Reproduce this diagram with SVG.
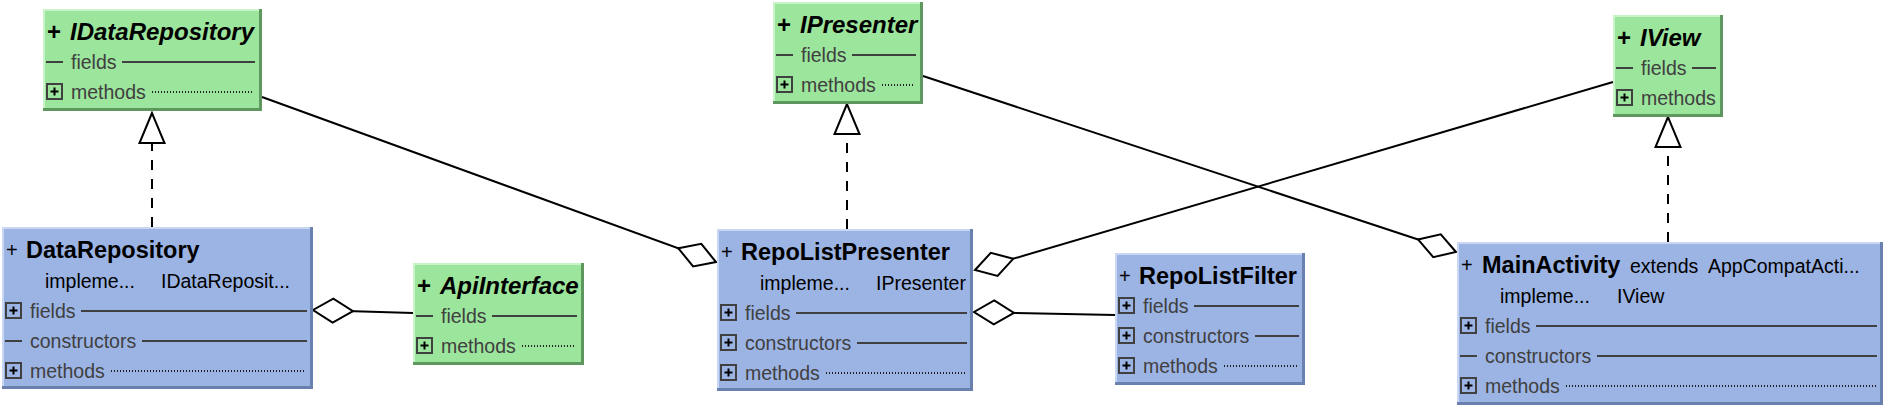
<svg xmlns="http://www.w3.org/2000/svg" xmlns:xlink="http://www.w3.org/1999/xlink" width="1884" height="406" viewBox="0 0 1884 406">
<style>
.gf{fill:#9ce59c}
.bf{fill:#9cb4e4}
.gl{stroke:#c9f3c9;stroke-width:2;fill:none}
.bl{stroke:#c9d7f3;stroke-width:2;fill:none}
.gd{stroke:#5e985e;stroke-width:3;fill:none}
.bd{stroke:#6a80ae;stroke-width:3;fill:none}
text{font-family:"Liberation Sans",Arial,sans-serif}
.pi{font-size:24px;font-weight:bold;fill:#000}
.ti{font-size:24px;font-weight:bold;font-style:italic;fill:#000}
.pc{font-size:20px;fill:#000}
.tc{font-size:23.5px;font-weight:bold;fill:#000}
.im{font-size:19.5px;fill:#000}
.m{font-size:19.5px;fill:#404040}
.sl{stroke:#404040;stroke-width:2;fill:none}
.dl{stroke:#202020;stroke-width:2;stroke-dasharray:1 2;fill:none}
.cn{stroke:#000;stroke-width:2;fill:none}
.dash{stroke-dasharray:10 9}
</style>
<defs>
<g id="pbox"><rect x="1" y="1" width="15" height="15" fill="none" stroke="#404040" stroke-width="2"/><path d="M4.5,8.5 H12.5 M8.5,4.5 V12.5" stroke="#000" stroke-width="2"/></g>
<marker id="dia" markerUnits="userSpaceOnUse" viewBox="-2 -14 44 28" markerWidth="44" markerHeight="28" refX="40" refY="0" orient="auto" overflow="visible">
<path d="M0,0 L20,-12 L40,0 L20,12 Z" fill="#fff" stroke="#000" stroke-width="2" stroke-linejoin="miter"/>
</marker>
<marker id="tri" markerUnits="userSpaceOnUse" viewBox="-2 -15 34 30" markerWidth="34" markerHeight="30" refX="30" refY="0" orient="auto" overflow="visible">
<path d="M30,0 L0,-12.5 L0,12.5 Z" fill="#fff" stroke="#000" stroke-width="2" stroke-dasharray="none"/>
</marker>
</defs>
<rect x="0" y="0" width="1884" height="406" fill="#fff"/>

<g id="connectors">
<path class="cn dash" d="M152,227 V113" marker-end="url(#tri)"/>
<path class="cn dash" d="M847,229 V104" marker-end="url(#tri)"/>
<path class="cn dash" d="M1668,242 V117" marker-end="url(#tri)"/>
<path class="cn" d="M262,97 L716,262" marker-end="url(#dia)"/>
<path class="cn" d="M413,313 L313,310" marker-end="url(#dia)"/>
<path class="cn" d="M1115,315 L974,312" marker-end="url(#dia)"/>
<path class="cn" d="M1613,82 L975,270" marker-end="url(#dia)"/>
<path class="cn" d="M923,76 L1456,252" marker-end="url(#dia)"/>
</g>

<g id="IDataRepository">
<rect class="gf" x="43" y="9" width="219" height="102"/>
<path class="gl" d="M43,10 H262 M44,9 V111"/>
<path class="gd" d="M260.5,9 V111 M43,109.5 H262"/>
<text class="pi" x="47" y="40">+</text>
<text class="ti" x="70" y="40">IDataRepository</text>
<path class="sl" d="M46,62 H63 M122,62 H255"/>
<text class="m" x="71" y="69">fields</text>
<use xlink:href="#pbox" x="46" y="83"/>
<text class="m" x="71" y="99">methods</text>
<path class="dl" d="M152,92 H254"/>
</g>

<g id="IPresenter">
<rect class="gf" x="773" y="2" width="150" height="102"/>
<path class="gl" d="M773,3 H923 M774,2 V104"/>
<path class="gd" d="M921.5,2 V104 M773,102.5 H923"/>
<text class="pi" x="777" y="33">+</text>
<text class="ti" x="800" y="33">IPresenter</text>
<path class="sl" d="M776,55 H793 M852,55 H916"/>
<text class="m" x="801" y="62">fields</text>
<use xlink:href="#pbox" x="776" y="76"/>
<text class="m" x="801" y="92">methods</text>
<path class="dl" d="M882,85 H915"/>
</g>

<g id="IView">
<rect class="gf" x="1613" y="15" width="110" height="102"/>
<path class="gl" d="M1613,16 H1723 M1614,15 V117"/>
<path class="gd" d="M1721.5,15 V117 M1613,115.5 H1723"/>
<text class="pi" x="1617" y="46">+</text>
<text class="ti" x="1640" y="46">IView</text>
<path class="sl" d="M1616,68 H1633 M1692,68 H1716"/>
<text class="m" x="1641" y="75">fields</text>
<use xlink:href="#pbox" x="1616" y="89"/>
<text class="m" x="1641" y="105">methods</text>
</g>

<g id="ApiInterface">
<rect class="gf" x="413" y="263" width="171" height="102"/>
<path class="gl" d="M413,264 H584 M414,263 V365"/>
<path class="gd" d="M582.5,263 V365 M413,363.5 H584"/>
<text class="pi" x="417" y="294">+</text>
<text class="ti" x="440" y="294">ApiInterface</text>
<path class="sl" d="M416,316 H433 M492,316 H577"/>
<text class="m" x="441" y="323">fields</text>
<use xlink:href="#pbox" x="416" y="337"/>
<text class="m" x="441" y="353">methods</text>
<path class="dl" d="M522,346 H576"/>
</g>

<g id="DataRepository">
<rect class="bf" x="2" y="227" width="311" height="162"/>
<path class="bl" d="M2,228 H313 M3,227 V389"/>
<path class="bd" d="M311.5,227 V389 M2,387.5 H313"/>
<text class="pc" x="6" y="257">+</text>
<text class="tc" x="26" y="258">DataRepository</text>
<text class="im" x="45" y="288">impleme...</text>
<text class="im" x="161" y="288">IDataReposit...</text>
<use xlink:href="#pbox" x="5" y="302"/>
<text class="m" x="30" y="318">fields</text>
<path class="sl" d="M81,311 H307"/>
<path class="sl" d="M5,341 H22 M142,341 H307"/>
<text class="m" x="30" y="348">constructors</text>
<use xlink:href="#pbox" x="5" y="362"/>
<text class="m" x="30" y="378">methods</text>
<path class="dl" d="M111,371 H306"/>
</g>

<g id="RepoListPresenter">
<rect class="bf" x="717" y="229" width="256" height="162"/>
<path class="bl" d="M717,230 H973 M718,229 V391"/>
<path class="bd" d="M971.5,229 V391 M717,389.5 H973"/>
<text class="pc" x="721" y="259">+</text>
<text class="tc" x="741" y="260">RepoListPresenter</text>
<text class="im" x="760" y="290">impleme...</text>
<text class="im" x="876" y="290">IPresenter</text>
<use xlink:href="#pbox" x="720" y="304"/>
<text class="m" x="745" y="320">fields</text>
<path class="sl" d="M796,313 H967"/>
<use xlink:href="#pbox" x="720" y="334"/>
<text class="m" x="745" y="350">constructors</text>
<path class="sl" d="M857,343 H967"/>
<use xlink:href="#pbox" x="720" y="364"/>
<text class="m" x="745" y="380">methods</text>
<path class="dl" d="M826,373 H966"/>
</g>

<g id="RepoListFilter">
<rect class="bf" x="1115" y="253" width="190" height="132"/>
<path class="bl" d="M1115,254 H1305 M1116,253 V385"/>
<path class="bd" d="M1303.5,253 V385 M1115,383.5 H1305"/>
<text class="pc" x="1119" y="283">+</text>
<text class="tc" x="1139" y="284">RepoListFilter</text>
<use xlink:href="#pbox" x="1118" y="297"/>
<text class="m" x="1143" y="313">fields</text>
<path class="sl" d="M1194,306 H1299"/>
<use xlink:href="#pbox" x="1118" y="327"/>
<text class="m" x="1143" y="343">constructors</text>
<path class="sl" d="M1255,336 H1299"/>
<use xlink:href="#pbox" x="1118" y="357"/>
<text class="m" x="1143" y="373">methods</text>
<path class="dl" d="M1224,366 H1298"/>
</g>

<g id="MainActivity">
<rect class="bf" x="1457" y="242" width="426" height="163"/>
<path class="bl" d="M1457,243 H1883 M1458,242 V405"/>
<path class="bd" d="M1881.5,242 V405 M1457,403.5 H1883"/>
<text class="pc" x="1461" y="272">+</text>
<text class="tc" x="1482" y="273">MainActivity</text>
<text class="im" x="1630" y="273">extends</text>
<text class="im" x="1708" y="273">AppCompatActi...</text>
<text class="im" x="1500" y="303">impleme...</text>
<text class="im" x="1617" y="303">IView</text>
<use xlink:href="#pbox" x="1460" y="317"/>
<text class="m" x="1485" y="333">fields</text>
<path class="sl" d="M1536,326 H1877"/>
<path class="sl" d="M1460,356 H1477 M1597,356 H1877"/>
<text class="m" x="1485" y="363">constructors</text>
<use xlink:href="#pbox" x="1460" y="377"/>
<text class="m" x="1485" y="393">methods</text>
<path class="dl" d="M1566,386 H1876"/>
</g>
</svg>
